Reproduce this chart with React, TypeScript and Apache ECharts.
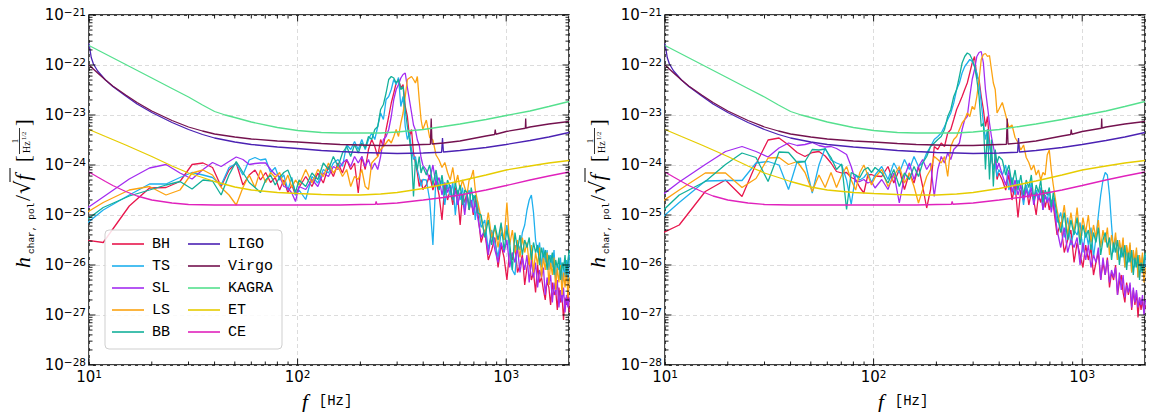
import React, { useEffect, useRef } from "react";
import * as echarts from "echarts";

// Frequency grid (Hz) shared by the signal spectra
const signalFreq = [
  7.8, 11.7, 15.6, 19.5, 23.4, 27.3, 31.2, 35.2, 39.1, 43.0, 46.9, 50.8, 54.7, 58.6, 62.5, 66.4, 70.3, 74.2, 78.1, 82.0, 85.9, 89.8, 93.8, 97.7, 101.6,
  109.4, 117.2, 125.0, 132.8, 140.6, 148.4, 156.2, 164.1, 171.9, 179.7, 187.5, 195.3, 203.1, 210.9, 218.7, 226.6, 234.4, 242.2, 250.0, 257.8, 265.6, 273.4, 281.2, 289.1, 296.9, 304.7, 312.5, 320.3, 328.1, 335.9, 343.7, 351.6, 359.4, 367.2, 375.0, 382.8, 390.6, 398.4,
  414.1, 429.7, 445.3, 460.9, 476.6, 492.2, 507.8, 523.4, 539.1, 554.7, 570.3, 585.9, 601.6, 617.2, 632.8, 648.4, 664.1, 679.7, 695.3, 710.9, 726.6,
  757.8, 789.1, 820.3, 851.6, 882.8, 914.1, 945.3, 976.6, 1007.8, 1039.1, 1070.3, 1101.6, 1132.8, 1164.1, 1195.3, 1226.6, 1257.8, 1289.1, 1320.3, 1351.6, 1382.8, 1414.1, 1445.3, 1476.6, 1507.8, 1539.1, 1570.3, 1601.6, 1632.8, 1664.1, 1695.3, 1726.6, 1757.8, 1789.1, 1820.3, 1851.6, 1882.8, 1914.1, 1945.3, 1976.6, 2007.8,
];

// log10 of h_char,pol/sqrt(f) -- left panel
const BH_L = [
  -25.45, -25.55, -24.82, -24.46, -24.45, -24.33, -23.99, -23.96, -24.05, -24.43, -24.1, -23.96, -24.4, -24.2, -24.1, -24.3, -24.15, -24.35, -24.25, -24.5, -24.3, -24.55, -24.4, -24.6, -24.45,
  -24.23, -24.43, -24.16, -24.36, -24.03, -24.23, -23.96, -24.16, -23.89, -24.09, -23.96, -24.56, -23.83, -24.09, -23.69, -23.49, -23.63, -23.83, -23.49, -23.63, -23.29, -23.03, -22.76, -22.56, -22.36, -22.29, -22.46, -22.39, -22.83, -23.03, -23.43, -23.29, -23.76, -23.96, -24.16, -24.43, -24.29, -24.49,
  -24.4, -24.2, -24.5, -24.3, -24.6, -25.1, -24.4, -24.7, -24.5, -24.8, -24.45, -24.65, -25.2, -24.6, -24.75, -24.55, -24.9, -24.7, -25.0, -24.65, -24.85,
  -25.55, -25.3, -25.9, -25.7, -25.45, -26.05, -25.6, -25.85, -26.3, -25.7, -25.9, -25.6, -26.15, -26.0, -25.8, -26.4, -26.05, -25.9, -26.3, -26.15, -26.55, -26.0, -26.35, -26.25, -26.5, -26.7, -26.3, -26.45, -26.8, -26.35, -26.6, -26.5, -26.9, -26.45, -26.75, -26.6, -27.1, -26.65, -26.8, -26.5, -26.95,
];
const TS_L = [
  -25.5, -24.9, -24.6, -24.38, -24.38, -24.25, -24.15, -24.2, -24.25, -24.4, -24.05, -23.97, -24.2, -23.9, -23.85, -23.9, -23.88, -24.15, -24.05, -24.3, -24.2, -24.5, -24.25, -24.6, -24.5,
  -24.69, -24.23, -24.36, -24.09, -24.16, -23.96, -23.89, -24.03, -23.59, -23.69, -23.53, -23.69, -23.49, -23.69, -23.49, -23.36, -23.49, -23.23, -22.96, -23.09, -22.69, -22.63, -22.49, -22.29, -22.39, -22.25, -22.83, -22.63, -23.23, -23.49, -23.36, -23.69, -23.89, -23.83, -24.09, -24.23, -24.43, -24.29,
  -24.3, -24.7, -25.6, -24.2, -24.5, -24.3, -24.8, -24.4, -24.6, -24.35, -25.0, -24.5, -24.7, -24.45, -24.9, -24.6, -24.5, -24.85, -24.6, -25.1, -24.7,
  -25.25, -25.1, -25.7, -25.3, -25.55, -25.85, -25.35, -25.5, -25.2, -25.75, -26.1, -26.2, -25.55, -25.7, -25.35, -25.2, -24.9, -24.7, -24.6, -24.95, -25.5, -25.75, -25.55, -26.05, -25.65, -25.95, -25.7, -26.1, -25.8, -26.05, -25.7, -26.3, -26.0, -26.1, -25.85, -26.4, -25.95, -26.25, -25.9, -26.35, -25.8,
];
const SL_L = [
  -25.15, -24.64, -24.28, -24.06, -23.99, -24.16, -24.28, -24.09, -23.95, -24.03, -23.93, -23.84, -23.89, -23.99, -23.97, -23.96, -23.96, -24.09, -24.19, -24.23, -24.43, -24.46, -24.56, -24.73, -24.43,
  -24.49, -24.29, -24.43, -24.16, -24.23, -24.03, -24.09, -23.96, -23.89, -24.03, -23.83, -23.96, -23.83, -24.03, -23.89, -24.09, -23.96, -24.09, -23.83, -23.49, -23.43, -23.29, -23.03, -22.69, -22.49, -22.39, -22.26, -22.19, -22.16, -22.45, -22.7, -22.95, -23.2, -23.3, -23.5, -23.6, -23.85, -24.0,
  -24.1, -24.3, -24.0, -24.4, -24.25, -24.6, -24.35, -24.55, -24.4, -24.7, -24.5, -24.8, -24.55, -24.65, -25.0, -24.6, -24.8, -24.7, -24.95, -24.75, -25.0,
  -25.45, -25.3, -25.8, -25.35, -25.7, -25.95, -25.55, -25.75, -25.5, -26.05, -25.75, -25.95, -25.65, -26.15, -25.85, -26.1, -25.8, -26.35, -25.9, -26.25, -25.95, -26.45, -26.1, -26.25, -26.05, -26.6, -26.25, -26.4, -26.2, -26.75, -26.35, -26.6, -26.3, -26.85, -26.5, -26.75, -26.45, -26.95, -26.6, -26.85, -26.65,
];
const LS_L = [
  -25.2, -24.75, -24.5, -24.43, -24.6, -24.5, -24.16, -24.1, -24.2, -24.45, -24.6, -24.8, -24.45, -24.2, -24.45, -24.1, -24.35, -24.15, -24.25, -24.15, -24.4, -24.2, -24.45, -24.3, -24.4,
  -24.09, -24.36, -24.09, -24.23, -23.96, -24.16, -24.03, -24.23, -24.09, -24.43, -24.23, -24.29, -24.09, -24.43, -24.49, -23.96, -23.89, -23.83, -23.69, -23.63, -23.56, -23.49, -23.56, -23.43, -23.29, -23.43, -23.16, -22.96, -22.63, -22.29, -22.26, -22.23, -22.29, -22.36, -22.23, -22.69, -23.09, -23.29,
  -23.1, -23.45, -23.5, -23.8, -23.9, -24.05, -23.95, -24.15, -24.3, -24.05, -24.4, -24.2, -24.5, -24.3, -24.45, -24.6, -24.3, -24.25, -24.1, -24.5, -24.7,
  -25.05, -25.4, -24.95, -25.45, -25.25, -25.65, -25.2, -25.5, -24.75, -25.6, -25.3, -25.75, -25.5, -25.85, -25.45, -25.75, -25.55, -26.0, -25.6, -26.15, -25.75, -26.0, -25.65, -26.25, -25.85, -26.1, -25.75, -26.4, -25.95, -26.2, -25.85, -26.5, -26.05, -26.35, -26.0, -26.6, -26.15, -26.45, -26.1, -26.65, -26.25,
];
const BB_L = [
  -25.4, -24.85, -24.62, -24.5, -24.4, -24.33, -24.48, -24.3, -24.32, -24.6, -24.2, -23.93, -24.15, -24.35, -24.45, -24.55, -24.3, -24.2, -24.4, -24.25, -24.15, -24.1, -24.3, -24.55, -24.3,
  -24.43, -24.16, -24.29, -23.96, -24.09, -23.83, -24.03, -23.76, -23.63, -23.83, -23.59, -23.76, -23.56, -23.66, -23.43, -23.49, -23.29, -23.23, -22.89, -22.79, -22.56, -22.29, -22.23, -22.26, -22.36, -22.29, -22.49, -22.43, -22.89, -23.23, -23.49, -23.83, -24.63, -23.89, -24.09, -23.83, -24.16, -24.03,
  -24.2, -24.0, -24.4, -24.1, -24.5, -24.2, -24.6, -24.3, -24.45, -24.7, -24.35, -24.6, -24.4, -24.8, -24.5, -24.55, -24.9, -24.45, -24.7, -24.6, -24.95,
  -25.0, -25.45, -25.1, -25.6, -25.2, -25.5, -25.15, -25.7, -25.3, -25.55, -26.1, -25.35, -25.7, -25.4, -25.8, -25.5, -25.65, -25.45, -25.9, -25.55, -25.75, -25.6, -26.0, -25.65, -25.85, -25.7, -26.1, -25.8, -25.95, -25.75, -26.2, -25.9, -26.05, -25.85, -26.3, -25.95, -26.1, -25.8, -26.2, -25.9, -25.7,
];

// log10 of h_char,pol/sqrt(f) -- right panel
const BH_R = [
  -25.55, -25.2, -24.53, -24.3, -24.63, -23.98, -23.5, -23.46, -23.6, -23.75, -23.83, -23.75, -23.73, -23.82, -23.96, -24.13, -24.16, -24.15, -24.25, -24.29, -24.45, -24.56, -24.2, -24.19, -24.22,
  -24.23, -24.03, -24.36, -24.09, -24.49, -24.16, -24.36, -24.03, -24.43, -24.86, -24.49, -23.63, -23.69, -23.56, -23.63, -23.36, -23.29, -23.09, -22.89, -22.76, -22.63, -22.49, -22.36, -22.16, -21.96, -21.83, -22.23, -22.29, -22.63, -22.89, -23.23, -23.03, -23.56, -23.83, -24.09, -23.89, -24.29, -24.16,
  -24.3, -24.5, -24.2, -24.7, -24.4, -25.05, -24.5, -24.65, -24.4, -24.8, -24.55, -24.7, -25.0, -24.6, -24.75, -24.5, -24.85, -24.65, -24.9, -24.7, -24.8,
  -25.4, -25.15, -25.75, -25.5, -25.3, -25.95, -25.55, -25.8, -26.05, -25.6, -25.9, -25.65, -26.2, -25.95, -25.75, -26.3, -25.95, -26.2, -25.85, -26.45, -26.15, -26.3, -26.0, -26.6, -26.35, -26.2, -26.55, -26.75, -26.35, -26.6, -26.4, -26.9, -26.5, -26.8, -26.55, -27.05, -26.65, -26.9, -26.7, -26.95, -26.8,
];
const TS_R = [
  -25.4, -24.75, -24.32, -24.31, -24.31, -23.96, -23.93, -24.0, -24.49, -23.93, -23.93, -24.56, -24.0, -23.66, -23.9, -23.96, -24.0, -24.3, -24.79, -24.2, -24.3, -24.25, -24.15, -24.35, -24.2,
  -24.03, -24.29, -23.96, -24.16, -23.89, -24.09, -23.83, -24.03, -23.96, -23.76, -23.63, -23.49, -23.43, -23.36, -23.23, -23.09, -22.96, -22.76, -22.49, -22.36, -22.16, -22.03, -21.96, -21.89, -21.93, -22.03, -22.16, -22.36, -22.76, -23.16, -23.49, -23.29, -23.63, -23.83, -24.09, -23.96, -24.23, -24.09,
  -24.2, -24.0, -24.5, -24.25, -24.6, -24.3, -24.45, -24.8, -24.4, -24.6, -24.35, -24.75, -24.5, -24.65, -24.45, -24.9, -24.6, -24.7, -24.5, -24.8, -24.65,
  -25.15, -24.95, -25.45, -25.05, -25.6, -25.3, -25.4, -25.15, -25.75, -25.3, -25.6, -25.25, -25.85, -25.45, -25.0, -24.6, -24.3, -24.15, -24.2, -24.6, -25.2, -25.75, -25.45, -25.9, -25.55, -25.85, -25.5, -26.05, -25.65, -25.95, -25.6, -26.15, -25.75, -26.05, -25.7, -26.25, -25.85, -26.15, -25.8, -26.2, -25.8,
];
const SL_R = [
  -24.9, -24.34, -23.99, -23.73, -23.63, -23.73, -23.84, -23.66, -23.56, -23.61, -23.59, -23.55, -23.61, -23.64, -23.63, -23.67, -23.73, -23.79, -24.03, -24.33, -24.33, -24.29, -24.36, -24.33, -24.46,
  -24.29, -24.49, -24.16, -24.76, -24.23, -23.96, -24.29, -24.03, -23.89, -24.09, -23.96, -24.63, -24.09, -23.83, -23.96, -23.76, -23.89, -23.69, -23.63, -23.56, -23.29, -23.09, -23.03, -22.63, -22.29, -22.09, -21.83, -21.75, -21.73, -21.96, -22.49, -22.83, -23.16, -23.43, -23.63, -23.83, -24.09, -23.96,
  -24.2, -24.4, -24.1, -24.55, -24.3, -24.6, -24.4, -24.7, -24.5, -24.65, -24.45, -24.8, -24.55, -24.7, -24.5, -24.9, -24.6, -24.75, -24.65, -24.95, -24.7,
  -25.3, -25.65, -25.25, -25.75, -25.5, -25.65, -25.45, -26.0, -25.55, -25.9, -25.6, -26.05, -25.8, -25.95, -25.65, -26.3, -25.85, -26.2, -25.9, -26.35, -26.1, -26.25, -26.05, -26.6, -26.15, -26.5, -26.2, -26.65, -26.4, -26.55, -26.35, -26.85, -26.45, -26.75, -26.5, -26.85, -26.65, -26.8, -26.6, -27.0, -26.7,
];
const LS_R = [
  -25.0, -24.5, -24.16, -24.16, -24.45, -24.27, -23.86, -23.85, -23.99, -23.93, -24.15, -24.53, -24.2, -24.45, -24.15, -24.45, -24.2, -24.03, -24.3, -24.5, -24.15, -24.0, -24.2, -24.4, -24.25,
  -24.09, -24.43, -24.23, -24.03, -24.36, -24.16, -24.43, -24.76, -24.49, -24.23, -24.09, -23.83, -23.89, -23.96, -23.83, -24.23, -23.63, -23.49, -23.43, -23.29, -23.16, -23.09, -22.96, -23.03, -22.83, -22.89, -22.63, -22.29, -21.89, -21.79, -21.77, -21.83, -21.81, -22.09, -22.36, -22.49, -22.96, -22.89,
  -22.75, -23.0, -23.25, -23.2, -23.45, -23.55, -23.7, -23.6, -23.85, -23.95, -24.1, -24.0, -24.2, -24.1, -24.3, -24.15, -24.2, -23.8, -23.7, -24.1, -24.4,
  -24.9, -25.25, -24.8, -25.4, -24.95, -25.35, -24.85, -25.5, -25.05, -25.35, -25.0, -25.55, -25.2, -25.45, -25.1, -25.65, -25.3, -25.55, -25.25, -25.8, -25.4, -25.65, -25.35, -25.9, -25.5, -25.75, -25.45, -26.05, -25.6, -25.85, -25.55, -26.15, -25.7, -25.95, -25.65, -26.25, -25.8, -26.05, -25.75, -26.35, -26.05,
];
const BB_R = [
  -25.3, -24.6, -24.33, -23.99, -23.76, -23.85, -24.33, -23.74, -23.75, -23.95, -23.93, -23.69, -23.7, -23.68, -23.85, -24.09, -23.98, -24.89, -24.15, -24.2, -24.25, -24.1, -24.05, -24.15, -24.05,
  -24.16, -24.36, -24.09, -24.43, -24.16, -24.29, -24.03, -24.23, -23.96, -23.83, -23.63, -23.56, -23.49, -23.43, -23.29, -23.03, -22.89, -22.63, -22.49, -22.23, -21.96, -21.83, -21.76, -21.79, -21.89, -22.03, -22.29, -22.63, -23.23, -23.16, -24.09, -23.29, -24.29, -23.49, -24.43, -23.69, -23.96, -23.83,
  -23.9, -24.2, -24.0, -24.4, -24.1, -24.5, -24.2, -24.6, -24.3, -24.45, -24.2, -24.7, -24.4, -24.55, -24.3, -24.75, -24.5, -24.6, -24.45, -24.85, -24.55,
  -25.0, -25.35, -24.95, -25.5, -25.1, -25.4, -25.05, -25.6, -25.2, -25.45, -25.3, -25.7, -25.35, -25.55, -25.25, -25.8, -25.5, -25.35, -25.65, -25.45, -25.9, -25.55, -25.75, -25.5, -26.0, -25.65, -25.85, -25.6, -26.1, -25.75, -25.95, -25.7, -26.2, -25.85, -26.05, -25.8, -26.3, -25.95, -26.15, -25.9, -25.75,
];

// Detector sensitivity curves (log10 values)
const ligoFreq = [10, 10.25, 10.5, 11, 12, 13, 15, 17, 20, 25, 30, 35, 40, 50, 60, 80, 100, 130, 160, 200, 250, 300, 400, 490, 495, 500, 600, 800, 1000, 1300, 1600, 2000];
const ligoVal = [-21.57, -21.85, -21.98, -22.12, -22.3, -22.43, -22.62, -22.78, -22.95, -23.15, -23.29, -23.39, -23.46, -23.54, -23.59, -23.64, -23.67, -23.71, -23.73, -23.75, -23.76, -23.77, -23.76, -23.745, -23.46, -23.74, -23.71, -23.65, -23.59, -23.51, -23.44, -23.35];
const virgoFreq = [10, 11, 12, 13, 15, 17, 20, 25, 30, 35, 40, 50, 60, 80, 100, 130, 160, 200, 250, 300, 400, 433, 437, 441, 500, 600, 800, 880, 886, 892, 1000, 1235, 1240, 1245, 1300, 1600, 2000];
const virgoVal = [-22.0, -22.16, -22.3, -22.42, -22.6, -22.75, -22.92, -23.11, -23.24, -23.32, -23.38, -23.44, -23.48, -23.52, -23.54, -23.57, -23.59, -23.6, -23.61, -23.61, -23.59, -23.585, -23.07, -23.58, -23.56, -23.52, -23.42, -23.39, -23.29, -23.385, -23.33, -23.265, -23.07, -23.26, -23.24, -23.18, -23.13];
const kagraFreq = [10, 15, 20, 25, 30, 35, 40, 45, 50, 60, 80, 100, 130, 160, 200, 250, 300, 400, 500, 600, 800, 1000, 1300, 1600, 2000];
const kagraVal = [-21.61, -21.99, -22.26, -22.47, -22.64, -22.8, -22.93, -23.0, -23.05, -23.14, -23.25, -23.31, -23.35, -23.36, -23.36, -23.36, -23.34, -23.29, -23.23, -23.18, -23.09, -23.01, -22.92, -22.83, -22.73];
const etFreq = [10, 12, 15, 20, 25, 30, 35, 40, 50, 60, 80, 100, 130, 160, 200, 250, 300, 400, 500, 600, 800, 1000, 1300, 1600, 2000];
const etVal = [-23.29, -23.43, -23.6, -23.83, -24.02, -24.16, -24.25, -24.33, -24.44, -24.5, -24.55, -24.57, -24.59, -24.6, -24.6, -24.58, -24.55, -24.47, -24.39, -24.32, -24.2, -24.1, -24.02, -23.96, -23.91];
const ceFreq = [10, 11, 12, 13, 15, 17, 20, 25, 30, 40, 60, 100, 160, 200, 236, 238, 240, 250, 300, 400, 500, 600, 800, 1000, 1300, 1600, 2000];
const ceVal = [-24.14, -24.24, -24.33, -24.41, -24.53, -24.62, -24.7, -24.76, -24.79, -24.8, -24.8, -24.8, -24.8, -24.79, -24.785, -24.73, -24.785, -24.78, -24.76, -24.7, -24.65, -24.6, -24.5, -24.41, -24.3, -24.22, -24.14];

const signalNames = ["BH", "TS", "SL", "LS", "BB"];
const detectorNames = ["LIGO", "Virgo", "KAGRA", "ET", "CE"];

// Axis tick positions
const xMajorTicks = [10, 100, 1000];
const xMinorTicks = [20, 30, 40, 50, 60, 70, 80, 90, 200, 300, 400, 500, 600, 700, 800, 900];
const yDecades = [-28, -27, -26, -25, -24, -23, -22, -21];
const yMinorFactors = [2, 3, 4, 5, 6, 7, 8, 9];

const COLORS: Record<string, string> = {
  BH: "#e8174d",
  TS: "#1fb0ee",
  SL: "#a32cf0",
  LS: "#fca311",
  BB: "#13b09a",
  LIGO: "#4b22b3",
  Virgo: "#74124f",
  KAGRA: "#55e08e",
  ET: "#e6cc00",
  CE: "#e022bc",
};

const pairs = (f: number[], v: number[]) => f.map((x, i) => [x, v[i]]);

const GRIDS = [
  { left: 89, top: 15, width: 480, height: 350 },
  { left: 665, top: 15, width: 480, height: 350 },
];

const MONO = "'Liberation Mono', 'Courier New', monospace";
const SERIF = "'Liberation Serif', 'Times New Roman', serif";
const TICK_FONT = "'DejaVu Sans', sans-serif";
const richLabel = {
  b: { fontFamily: TICK_FONT, fontSize: 15, color: "#000", lineHeight: 18 },
  s: { fontFamily: TICK_FONT, fontSize: 10.5, color: "#000", lineHeight: 11, verticalAlign: "top" },
};

function yTitle(x0: number) {
  return {
    type: "group",
    x: x0,
    y: 268,
    rotation: Math.PI / 2,
    silent: true,
    children: [
      { type: "text", x: 0, y: -7.5, style: { text: "h", fontFamily: SERIF, fontStyle: "italic", fontSize: 22, fill: "#000", align: "left", verticalAlign: "middle" } },
      { type: "text", x: 14, y: 1.5, style: { text: "char, pol", fontFamily: MONO, fontSize: 9.5, fill: "#000", align: "left", verticalAlign: "middle" } },
      { type: "text", x: 67, y: -7.5, style: { text: "/", fontFamily: SERIF, fontSize: 22, fill: "#000", align: "left", verticalAlign: "middle" } },
      { type: "text", x: 74, y: -7, style: { text: "\u221A", fontFamily: TICK_FONT, fontSize: 21, fill: "#000", align: "left", verticalAlign: "middle" } },
      { type: "line", shape: { x1: 86, y1: -20, x2: 100, y2: -20 }, style: { stroke: "#000", lineWidth: 1 } },
      { type: "text", x: 87.5, y: -7.5, style: { text: "f", fontFamily: SERIF, fontStyle: "italic", fontSize: 22, fill: "#000", align: "left", verticalAlign: "middle" } },
      { type: "text", x: 106, y: -7, style: { text: "[", fontFamily: SERIF, fontSize: 20, fill: "#000", align: "left", verticalAlign: "middle" } },
      { type: "text", x: 127, y: -15, style: { text: "1", fontFamily: SERIF, fontSize: 9, fill: "#000", align: "center", verticalAlign: "middle" } },
      { type: "line", shape: { x1: 114, y1: -10.5, x2: 140, y2: -10.5 }, style: { stroke: "#000", lineWidth: 0.8 } },
      { type: "text", x: 115, y: -4, style: { text: "Hz", fontFamily: SERIF, fontSize: 10, fill: "#000", align: "left", verticalAlign: "middle" } },
      { type: "text", x: 128, y: -7, style: { text: "1/2", fontFamily: SERIF, fontSize: 6.5, fill: "#000", align: "left", verticalAlign: "middle" } },
      { type: "text", x: 142, y: -7, style: { text: "]", fontFamily: SERIF, fontSize: 20, fill: "#000", align: "left", verticalAlign: "middle" } },
    ],
  };
}

function xTitle(cx: number) {
  return {
    type: "text",
    x: cx,
    y: 401,
    silent: true,
    style: {
      text: "{i|f}{u|[Hz]}",
      align: "center",
      verticalAlign: "middle",
      rich: {
        i: { fontFamily: SERIF, fontStyle: "italic", fontSize: 22, fill: "#000", padding: [0, 11, 0, 0] },
        u: { fontFamily: MONO, fontSize: 14, fill: "#000" },
      },
    },
  };
}

export default function App() {
  const ref = useRef<HTMLDivElement>(null);

  useEffect(() => {
    if (!ref.current) return;
    const chart = echarts.init(ref.current, null, { renderer: "svg" });

    const leftSignals = [BH_L, TS_L, SL_L, LS_L, BB_L];
    const rightSignals = [BH_R, TS_R, SL_R, LS_R, BB_R];
    const detectors: number[][][] = [
      [ligoFreq, ligoVal],
      [virgoFreq, virgoVal],
      [kagraFreq, kagraVal],
      [etFreq, etVal],
      [ceFreq, ceVal],
    ];

    const xTickData = [
      ...xMajorTicks.map((f) => [f, -25, 0]),
      ...xMinorTicks.map((f) => [f, -25, 1]),
    ];
    const yTickData: number[][] = [];
    yDecades.forEach((d) => {
      yTickData.push([100, d, 0]);
      if (d < -21) yMinorFactors.forEach((k) => yTickData.push([100, d + Math.log10(k), 1]));
    });

    const series: any[] = [];
    [0, 1].forEach((p) => {
      const sig = p === 0 ? leftSignals : rightSignals;
      signalNames.forEach((n, i) => {
        series.push({
          type: "line",
          name: n,
          xAxisIndex: p,
          yAxisIndex: p,
          data: pairs(signalFreq, sig[i]),
          symbol: "none",
          showSymbol: false,
          silent: true,
          z: 2,
          lineStyle: { width: 1.3, color: COLORS[n] },
          itemStyle: { color: COLORS[n] },
        });
      });
      detectorNames.forEach((n, i) => {
        series.push({
          type: "line",
          name: n,
          xAxisIndex: p,
          yAxisIndex: p,
          data: pairs(detectors[i][0], detectors[i][1]),
          symbol: "none",
          showSymbol: false,
          silent: true,
          z: 3,
          lineStyle: { width: 1.3, color: COLORS[n] },
          itemStyle: { color: COLORS[n] },
        });
      });
      series.push({
        type: "custom",
        name: "xticks" + p,
        xAxisIndex: p,
        yAxisIndex: p,
        silent: true,
        z: 5,
        data: xTickData,
        renderItem: (_params: any, api: any) => {
          const f = api.value(0);
          const minor = api.value(2);
          const b = api.coord([f, -28]);
          const t = api.coord([f, -21]);
          const len = minor ? 3.5 : 6.5;
          return {
            type: "group",
            children: [
              { type: "line", shape: { x1: b[0], y1: b[1], x2: b[0], y2: b[1] - len }, style: { stroke: "#000", lineWidth: 0.9 } },
              { type: "line", shape: { x1: t[0], y1: t[1], x2: t[0], y2: t[1] + len }, style: { stroke: "#000", lineWidth: 0.9 } },
            ],
          };
        },
      });
      series.push({
        type: "custom",
        name: "yticks" + p,
        xAxisIndex: p,
        yAxisIndex: p,
        silent: true,
        z: 5,
        data: yTickData,
        renderItem: (_params: any, api: any) => {
          const v = api.value(1);
          const minor = api.value(2);
          const l = api.coord([10, v]);
          const r = api.coord([2000, v]);
          const len = minor ? 3.5 : 6.5;
          return {
            type: "group",
            children: [
              { type: "line", shape: { x1: l[0], y1: l[1], x2: l[0] + len, y2: l[1] }, style: { stroke: "#000", lineWidth: 0.9 } },
              { type: "line", shape: { x1: r[0], y1: r[1], x2: r[0] - len, y2: r[1] }, style: { stroke: "#000", lineWidth: 0.9 } },
            ],
          };
        },
      });
    });

    const splitLine = { show: true, lineStyle: { color: "#dcdcdc", width: 1, type: [4, 3] } };

    const legendBase = {
      orient: "vertical",
      top: 236,
      itemWidth: 32,
      itemHeight: 1.6,
      itemGap: 6,
      icon: "rect",
      padding: 0,
      selectedMode: false,
      z: 10,
      textStyle: { fontFamily: MONO, fontSize: 15, color: "#000", lineHeight: 16, padding: [0, 0, 0, 3] },
    };

    const option: any = {
      animation: false,
      backgroundColor: "#ffffff",
      grid: GRIDS.map((g) => ({ ...g, show: true, borderColor: "#000", borderWidth: 1.4, backgroundColor: "transparent" })),
      xAxis: [0, 1].map((i) => ({
        type: "log",
        gridIndex: i,
        min: 10,
        max: 2000,
        logBase: 10,
        splitNumber: 5,
        axisLine: { show: false },
        axisTick: { show: false },
        splitLine,
        axisLabel: {
          margin: 3,
          formatter: (v: number) => {
            const e = Math.log10(v);
            const r = Math.round(e);
            if (Math.abs(e - r) > 1e-6) return "";
            return "{b|10}{s|" + r + "}";
          },
          rich: richLabel,
        },
      })),
      yAxis: [0, 1].map((i) => ({
        type: "value",
        gridIndex: i,
        min: -28,
        max: -21,
        interval: 1,
        axisLine: { show: false },
        axisTick: { show: false },
        splitLine,
        axisLabel: {
          margin: 3,
          formatter: (v: number) => "{b|10}{s|\u2212" + Math.abs(Math.round(v)) + "}",
          rich: richLabel,
        },
      })),
      legend: [
        { ...legendBase, left: 112, data: signalNames },
        { ...legendBase, left: 188, data: detectorNames },
      ],
      graphic: [
        {
          type: "rect",
          z: 9,
          silent: true,
          shape: { x: 105, y: 230, width: 177, height: 119, r: 4 },
          style: { fill: "rgba(255,255,255,0.85)", stroke: "#cfcfcf", lineWidth: 1 },
        },
        yTitle(30),
        yTitle(605),
        xTitle(327),
        xTitle(903),
      ],
      series,
    };

    chart.setOption(option);
    return () => chart.dispose();
  }, []);

  return (
    <div
      ref={ref}
      style={{ position: "fixed", left: 0, top: 0, width: 1152, height: 412, background: "#fff" }}
    />
  );
}
